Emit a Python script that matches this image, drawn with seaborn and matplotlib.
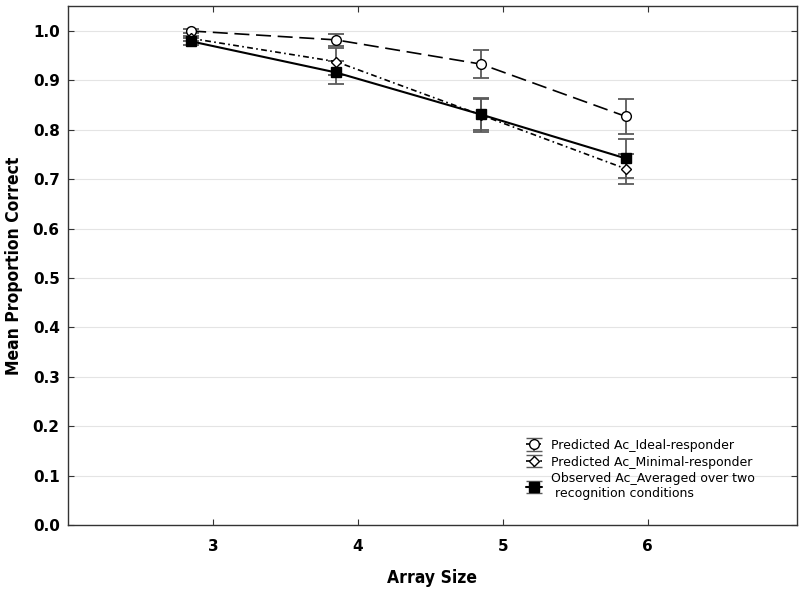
import numpy as np
import pandas as pd
import matplotlib
matplotlib.use("Agg")
import matplotlib.pyplot as plt
import seaborn as sns

# values
array_size = [3, 4, 5, 6]
ideal_mean = [1.000, 0.982, 0.933, 0.827]
ideal_err = [0.004, 0.012, 0.028, 0.035]
minimal_mean = [0.985, 0.938, 0.830, 0.721]
minimal_err = [0.005, 0.028, 0.034, 0.030]
observed_mean = [0.979, 0.916, 0.831, 0.742]
observed_err = [0.007, 0.023, 0.031, 0.040]

series_labels = [
    "Predicted Ac_Ideal-responder",
    "Predicted Ac_Minimal-responder",
    "Observed Ac_Averaged over two\n recognition conditions",
]
x_label = "Array Size"
y_label = "Mean Proportion Correct"

# points sit slightly left of the tick marks in the original
x_shift = -0.15

sns.set_theme(style="ticks")
plt.rcParams["font.family"] = ["DejaVu Sans"]
plt.rcParams["text.color"] = "black"
plt.rcParams["axes.labelcolor"] = "black"

fig = plt.figure(figsize=(8, 5.92), dpi=100)
ax = fig.add_axes([0.085, 0.1132, 0.911, 0.877])

styles = [
    dict(mean=ideal_mean, err=ideal_err, ls=(0, (9, 4)), lw=1.2,
         marker="o", mfc="white", ms=7),
    dict(mean=minimal_mean, err=minimal_err, ls=(0, (3.5, 2, 1, 2)), lw=1.2,
         marker="D", mfc="white", ms=5),
    dict(mean=observed_mean, err=observed_err, ls="-", lw=1.5,
         marker="s", mfc="black", ms=7),
]

bar_kw = dict(ecolor="#5a5a5a", elinewidth=1.3, capsize=5.5, capthick=1.3)

handles = []
for st in styles:
    df = pd.DataFrame({"x": np.array(array_size) + x_shift, "y": st["mean"]})
    ax.errorbar(df["x"], df["y"], yerr=st["err"], fmt="none", zorder=2, **bar_kw)
    sns.lineplot(data=df, x="x", y="y", ax=ax, color="black",
                 linestyle=st["ls"], linewidth=st["lw"], marker=st["marker"],
                 markerfacecolor=st["mfc"], markeredgecolor="black",
                 markeredgewidth=1.0, markersize=st["ms"], zorder=3,
                 legend=False)
    # empty container used only as the legend entry
    proxy = ax.errorbar([np.nan], [np.nan], yerr=[0.01], color="black",
                        linestyle=st["ls"], linewidth=st["lw"],
                        marker=st["marker"], markerfacecolor=st["mfc"],
                        markeredgecolor="black", markeredgewidth=1.0,
                        markersize=st["ms"], **bar_kw)
    handles.append(proxy)

ax.set_xlim(2, 7.03)
ax.set_ylim(0, 1.051)
ax.set_xticks(array_size)
yticks = np.round(np.arange(0, 1.01, 0.1), 1)
ax.set_yticks(yticks)
ax.set_yticklabels([f"{v:.1f}" for v in yticks])
ax.yaxis.grid(True, color="#e4e4e4", linewidth=0.8)
ax.set_axisbelow(True)

for sp in ax.spines.values():
    sp.set_color("#333333")
    sp.set_linewidth(1.0)
ax.tick_params(direction="in", length=4, width=0.8, top=True, right=True,
               labelsize=11, colors="#333333", labelcolor="black")
ax.tick_params(axis="x", pad=10)
ax.tick_params(axis="y", pad=6)
for t in ax.get_xticklabels() + ax.get_yticklabels():
    t.set_fontweight("bold")

ax.set_xlabel(x_label, fontsize=12.5, fontweight="bold",
              fontstretch="condensed", labelpad=11)
ax.set_ylabel(y_label, fontsize=12.5, fontweight="bold",
              fontstretch="condensed", labelpad=7)

ax.legend(handles, series_labels, loc="upper left",
          bbox_to_anchor=(0.62, 0.178), frameon=False, fontsize=9,
          handlelength=1.3, handletextpad=0.7, labelspacing=0.3,
          borderpad=0, numpoints=1)

fig.savefig("out.png", dpi=100)
